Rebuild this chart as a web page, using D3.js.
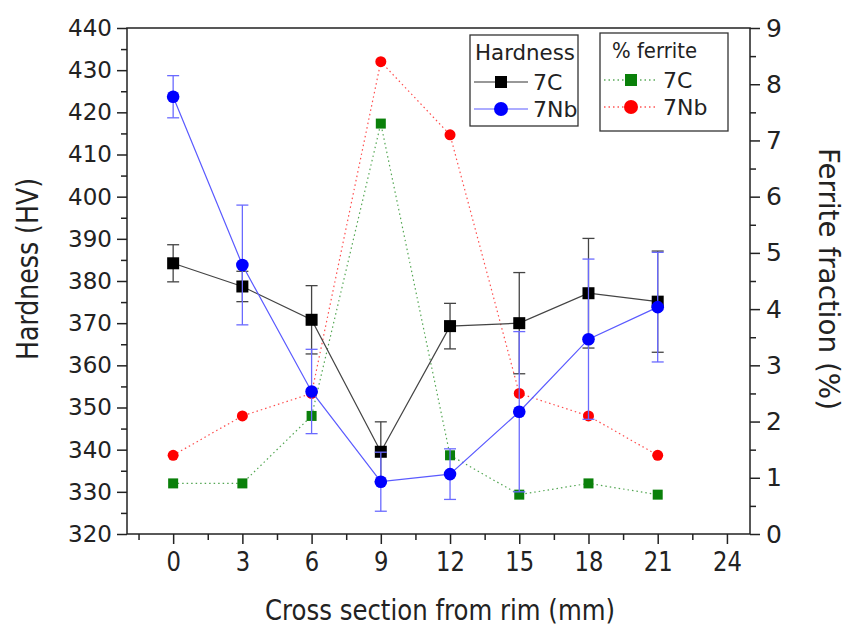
<!DOCTYPE html>
<html>
<head>
<meta charset="utf-8">
<script src="https://cdn.jsdelivr.net/npm/d3@7"></script>
<style>
  body { margin: 0; background: #fff; }
  text { font-family: "DejaVu Sans", Verdana, sans-serif; fill: #222; }
</style>
</head>
<body>
<svg id="chart" width="847" height="628"></svg>
<script>
// data
const positions = [0, 3, 6, 9, 12, 15, 18, 21];
const hard7C = [384.2, 378.7, 370.8, 339.5, 369.3, 370.0, 377.1, 375.1];
const hard7CErr = [4.4, 3.6, 8.1, 7.1, 5.4, 12, 13, 12];
const hard7Nb = [423.7, 383.8, 353.8, 332.4, 334.2, 349.0, 366.2, 373.8];
const hard7NbErr = [5, 14.2, 10, 7, 6, 19, 19, 13];
const ferr7C = [0.9, 0.9, 2.1, 7.3, 1.4, 0.7, 0.9, 0.7];
const ferr7Nb = [1.4, 2.1, 2.5, 8.4, 7.1, 2.5, 2.1, 1.4];

const xTicks = [0, 3, 6, 9, 12, 15, 18, 21, 24];
const leftTicks = d3.range(320, 441, 10);
const rightTicks = d3.range(0, 10, 1);

const svg = d3.select("#chart");
const plotLeft = 127, plotRight = 750, plotTop = 28, plotBottom = 534;

const x = d3.scaleLinear().domain([-2, 25]).range([plotLeft, plotRight]);
const yL = d3.scaleLinear().domain([320, 440]).range([plotBottom, plotTop]);
const yR = d3.scaleLinear().domain([0, 9]).range([plotBottom, plotTop]);

// squeeze text horizontally (the original font is narrower than DejaVu)
function condense(sel, factor) {
  sel.each(function () {
    const len = this.getComputedTextLength();
    d3.select(this).attr("textLength", len * factor).attr("lengthAdjust", "spacingAndGlyphs");
  });
}

// axes
const axisColor = "#222";
function styleAxis(g, fontSize) {
  g.select(".domain").remove();
  g.selectAll("line").attr("stroke", axisColor).attr("stroke-width", 1.5);
  g.selectAll("text").attr("font-size", fontSize).attr("fill", "#222")
    .style("font-family", "'DejaVu Sans', Verdana, sans-serif");
}

// x axis
svg.append("g").attr("transform", `translate(0,${plotBottom})`)
  .call(d3.axisBottom(x).tickValues(d3.range(-1.5, 25, 3)).tickSize(6).tickFormat(""))
  .call(g => styleAxis(g, 0));
svg.append("g").attr("transform", `translate(0,${plotBottom})`)
  .call(d3.axisBottom(x).tickValues(xTicks).tickSize(10).tickPadding(8))
  .call(g => styleAxis(g, 27))
  .call(g => condense(g.selectAll("text"), 0.84));

// left axis
svg.append("g").attr("transform", `translate(${plotLeft},0)`)
  .call(d3.axisLeft(yL).tickValues(d3.range(325, 440, 10)).tickSize(6).tickFormat(""))
  .call(g => styleAxis(g, 0));
svg.append("g").attr("transform", `translate(${plotLeft},0)`)
  .call(d3.axisLeft(yL).tickValues(leftTicks).tickSize(10).tickPadding(5))
  .call(g => styleAxis(g, 23));

// right axis
svg.append("g").attr("transform", `translate(${plotRight},0)`)
  .call(d3.axisRight(yR).tickValues(d3.range(0.5, 9, 1)).tickSize(6).tickFormat(""))
  .call(g => styleAxis(g, 0));
svg.append("g").attr("transform", `translate(${plotRight},0)`)
  .call(d3.axisRight(yR).tickValues(rightTicks).tickSize(10).tickPadding(6))
  .call(g => styleAxis(g, 25));

// frame
svg.append("rect")
  .attr("x", plotLeft).attr("y", plotTop)
  .attr("width", plotRight - plotLeft).attr("height", plotBottom - plotTop)
  .attr("fill", "none").attr("stroke", axisColor).attr("stroke-width", 1.5);

// axis titles
svg.append("text").attr("x", 440).attr("y", 620)
  .attr("text-anchor", "middle").attr("font-size", 29)
  .attr("textLength", 350).attr("lengthAdjust", "spacingAndGlyphs")
  .text("Cross section from rim (mm)");
svg.append("text").attr("transform", "translate(38,269) rotate(-90)")
  .attr("text-anchor", "middle").attr("font-size", 30)
  .attr("textLength", 182).attr("lengthAdjust", "spacingAndGlyphs")
  .text("Hardness (HV)");
svg.append("text").attr("transform", "translate(819,279) rotate(90)")
  .attr("text-anchor", "middle").attr("font-size", 28)
  .attr("textLength", 262).attr("lengthAdjust", "spacingAndGlyphs")
  .text("Ferrite fraction (%)");

const plot = svg.append("g");

// ferrite series (dotted)
function dottedSeries(vals, color, shape) {
  const line = d3.line().x((d, i) => x(positions[i])).y(d => yR(d));
  plot.append("path").datum(vals).attr("d", line)
    .attr("fill", "none").attr("stroke", color).attr("stroke-width", 1.2)
    .attr("stroke-opacity", 0.7).attr("stroke-dasharray", "1.5,3");
  if (shape === "square") {
    plot.selectAll(null).data(vals).join("rect")
      .attr("x", (d, i) => x(positions[i]) - 5).attr("y", d => yR(d) - 5)
      .attr("width", 10).attr("height", 10).attr("fill", color);
  } else {
    plot.selectAll(null).data(vals).join("circle")
      .attr("cx", (d, i) => x(positions[i])).attr("cy", d => yR(d))
      .attr("r", 5.5).attr("fill", color);
  }
}
dottedSeries(ferr7C, "#0a800a", "square");
dottedSeries(ferr7Nb, "#ff0000", "circle");

// hardness series with error bars
function hardSeries(vals, errs, color, lineColor, barColor, shape) {
  const bars = plot.append("g").attr("stroke", barColor).attr("stroke-width", 1.3);
  vals.forEach((v, i) => {
    const cx = x(positions[i]);
    bars.append("line").attr("x1", cx).attr("x2", cx)
      .attr("y1", yL(v - errs[i])).attr("y2", yL(v + errs[i]));
    [v - errs[i], v + errs[i]].forEach(e => {
      bars.append("line").attr("x1", cx - 6).attr("x2", cx + 6)
        .attr("y1", yL(e)).attr("y2", yL(e));
    });
  });
  const line = d3.line().x((d, i) => x(positions[i])).y(d => yL(d));
  plot.append("path").datum(vals).attr("d", line)
    .attr("fill", "none").attr("stroke", lineColor).attr("stroke-width", 1.2);
  if (shape === "square") {
    plot.selectAll(null).data(vals).join("rect")
      .attr("x", (d, i) => x(positions[i]) - 6).attr("y", d => yL(d) - 6)
      .attr("width", 12).attr("height", 12).attr("fill", color);
  } else {
    plot.selectAll(null).data(vals).join("circle")
      .attr("cx", (d, i) => x(positions[i])).attr("cy", d => yL(d))
      .attr("r", 6.3).attr("fill", color);
  }
}
hardSeries(hard7C, hard7CErr, "#000", "#444", "#444", "square");
hardSeries(hard7Nb, hard7NbErr, "#0000ff", "#5a5aff", "#6a6aff", "circle");

// legends
function legendBox(x0, y0, w, h, title, titleDx, titleLen, items) {
  const g = svg.append("g");
  g.append("rect").attr("x", x0).attr("y", y0).attr("width", w).attr("height", h)
    .attr("fill", "#fff").attr("stroke", "#333").attr("stroke-width", 1.3);
  g.append("text").attr("x", x0 + titleDx).attr("y", y0 + 25).attr("font-size", 21)
    .attr("textLength", titleLen).attr("lengthAdjust", "spacingAndGlyphs").text(title);
  items.forEach((it, k) => {
    const cy = y0 + 47 + k * 27;
    g.append("line").attr("x1", x0 + 4).attr("x2", x0 + 58).attr("y1", cy).attr("y2", cy)
      .attr("stroke", it.line).attr("stroke-width", 1.2)
      .attr("stroke-dasharray", it.dash ? "1.5,3" : null);
    if (it.shape === "square") {
      g.append("rect").attr("x", x0 + 31 - 6).attr("y", cy - 6)
        .attr("width", 12).attr("height", 12).attr("fill", it.color);
    } else {
      g.append("circle").attr("cx", x0 + 31).attr("cy", cy).attr("r", 7).attr("fill", it.color);
    }
    g.append("text").attr("x", x0 + 63).attr("y", cy + 8).attr("font-size", 22).text(it.label);
  });
}
legendBox(470, 35, 108, 91, "Hardness", 5, 100, [
  { label: "7C", color: "#000", line: "#333", shape: "square" },
  { label: "7Nb", color: "#0000ff", line: "#5a5aff", shape: "circle" }
]);
legendBox(600, 33, 128, 98, "% ferrite", 12, 85, [
  { label: "7C", color: "#0a800a", line: "#0a800a", shape: "square", dash: true },
  { label: "7Nb", color: "#ff0000", line: "#ff0000", shape: "circle", dash: true }
]);
</script>
</body>
</html>
